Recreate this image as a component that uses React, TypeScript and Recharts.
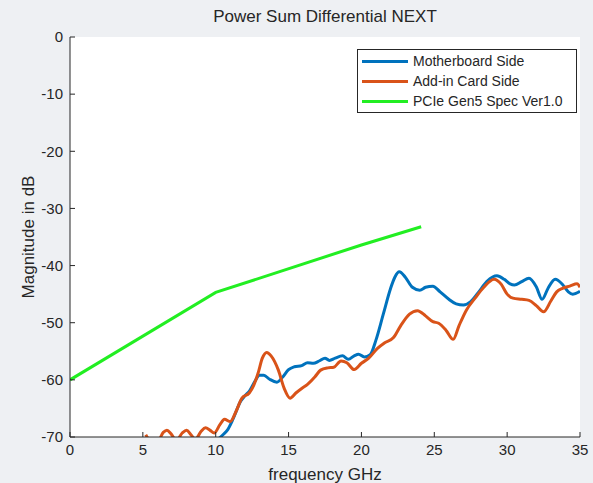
import React from 'react';
import { LineChart, Line, XAxis, YAxis, Legend } from 'recharts';

const freqTicks = [0, 5, 10, 15, 20, 25, 30, 35];
const dbTicks = [0, -10, -20, -30, -40, -50, -60, -70];
const seriesNames = ['Motherboard Side', 'Add-in Card Side', 'PCIe Gen5 Spec Ver1.0'];

const mbFreq = [10.2, 10.5, 10.8, 11.2, 11.7, 12.0, 12.3, 12.7, 13.0, 13.3, 13.7, 14.2, 14.6, 15.0, 15.4, 15.9, 16.3, 16.7, 17.1, 17.5, 17.8, 18.2, 18.7, 19.1, 19.5, 19.8, 20.2, 20.6, 21.0, 21.5, 22.0, 22.3, 22.6, 23.0, 23.5, 24.0, 24.4, 24.9, 25.4, 26.0, 26.5, 27.0, 27.5, 28.0, 28.6, 29.0, 29.3, 29.8, 30.2, 30.5, 31.0, 31.5, 32.0, 32.4, 32.8, 33.3, 33.8, 34.2, 34.5, 35.0];
const mbDb = [-70.3, -69.6, -68.8, -66.8, -63.8, -62.8, -62.0, -60.2, -59.2, -59.2, -59.9, -60.4, -59.5, -58.2, -57.7, -57.5, -57.0, -57.1, -56.7, -56.2, -56.6, -56.2, -55.8, -56.4, -55.8, -55.5, -56.0, -55.6, -53.0, -48.5, -44.0, -42.0, -41.1, -42.0, -43.8, -44.3, -43.8, -43.6, -44.6, -45.9, -46.7, -46.9, -46.3, -44.8, -42.8, -42.0, -41.8, -42.4, -43.2, -43.4, -42.8, -42.2, -43.7, -45.9, -44.0, -42.4, -43.3, -44.6, -45.0, -44.5];

const aicFreq = [5.2, 5.5, 6.0, 6.4, 6.65, 6.95, 7.3, 7.7, 8.0, 8.3, 8.6, 9.0, 9.3, 9.6, 9.9, 10.3, 10.6, 11.0, 11.4, 11.8, 12.3, 12.6, 12.9, 13.2, 13.5, 13.8, 14.3, 14.7, 15.1, 15.5, 15.9, 16.3, 16.8, 17.2, 17.7, 18.1, 18.6, 19.0, 19.5, 20.0, 20.5, 21.1, 21.6, 22.2, 22.7, 23.3, 23.85, 24.4, 24.9, 25.3, 25.8, 26.3, 26.7, 27.2, 27.8, 28.4, 29.1, 29.6, 30.0, 30.4, 31.0, 31.5, 32.0, 32.5, 33.0, 33.4, 33.8, 34.3, 34.8, 35.0];
const aicDb = [-69.6, -70.6, -70.8, -69.2, -68.8, -69.5, -70.6, -69.3, -68.8, -69.6, -70.4, -69.0, -68.4, -68.8, -69.3, -67.8, -66.9, -67.3, -65.5, -63.2, -62.3, -61.0, -58.9, -56.2, -55.2, -55.8, -58.3, -61.5, -63.2, -62.3, -61.5, -60.8, -59.5, -58.3, -57.9, -57.8, -56.7, -57.0, -58.2, -57.1, -56.2, -54.5, -53.5, -52.6, -50.5, -48.5, -47.9, -48.8, -49.8, -50.1, -51.3, -52.9, -50.5, -47.8, -45.7, -43.8, -42.4, -43.3, -45.0, -45.7, -45.9, -46.1, -47.0, -48.1, -46.2, -44.6, -44.0, -43.6, -43.2, -43.8];

const specFreq = [0, 10, 20, 24.1];
const specDb = [-60, -44.7, -36.4, -33.2];

const toRows = (fs: number[], vs: number[]) => fs.map((f, i) => ({ f, v: vs[i] }));
const mbData = toRows(mbFreq, mbDb);
const aicData = toRows(aicFreq, aicDb);
const specData = toRows(specFreq, specDb);

const FONT = '"Liberation Sans", Arial, sans-serif';
const INK = '#262626';

const LegendBox = ({ payload }: any) => {
  const items = seriesNames
    .map((n) => (payload || []).find((p: any) => p.value === n))
    .filter(Boolean);
  return (
    <div
      style={{
        border: `1px solid ${INK}`,
        background: '#fff',
        padding: '1px 14px 1px 4px',
        fontFamily: FONT,
        fontSize: 14,
        color: INK,
        lineHeight: '20px',
        whiteSpace: 'nowrap',
      }}
    >
      {items.map((p: any) => (
        <div key={p.value} style={{ display: 'flex', alignItems: 'center' }}>
          <span style={{ display: 'inline-block', width: 46, height: 3, background: p.color, marginRight: 5 }} />
          {p.value}
        </div>
      ))}
    </div>
  );
};

const App: React.FC = () => (
  <div style={{ position: 'absolute', left: 0, top: 0, width: 593, height: 483, background: '#eef0f3' }}>
    <div
      style={{
        position: 'absolute',
        left: 70,
        width: 510,
        top: 7,
        textAlign: 'center',
        fontFamily: FONT,
        fontSize: 17,
        color: INK,
      }}
    >
      Power Sum Differential NEXT
    </div>
    <LineChart width={593} height={483} margin={{ top: 37, right: 13, left: 0, bottom: 0 }}>
      <rect x={70} y={37} width={510} height={400} fill="#fff" />
      <XAxis
        xAxisId="b"
        dataKey="f"
        type="number"
        domain={[0, 35]}
        ticks={freqTicks}
        allowDataOverflow
        height={46}
        tickSize={-5}
        tickMargin={12}
        stroke={INK}
        tick={{ fill: INK, fontSize: 15, fontFamily: FONT }}
        label={{ value: 'frequency GHz', position: 'insideBottom', offset: 3, fill: INK, fontSize: 17, fontFamily: FONT }}
      />
      <XAxis
        xAxisId="t"
        dataKey="f"
        type="number"
        orientation="top"
        domain={[0, 35]}
        ticks={freqTicks}
        allowDataOverflow
        height={0}
        tickSize={-5}
        stroke={INK}
        tick={false}
      />
      <YAxis
        yAxisId="l"
        type="number"
        domain={[-70, 0]}
        ticks={dbTicks}
        allowDataOverflow
        width={70}
        tickSize={-5}
        tickMargin={12}
        stroke={INK}
        tick={{ fill: INK, fontSize: 15, fontFamily: FONT }}
        label={{ value: 'Magnitude in dB', angle: -90, position: 'insideLeft', offset: 28, fill: INK, fontSize: 17, fontFamily: FONT, style: { textAnchor: 'middle' } }}
      />
      <YAxis
        yAxisId="r"
        type="number"
        orientation="right"
        domain={[-70, 0]}
        ticks={dbTicks}
        allowDataOverflow
        width={0}
        tickSize={-5}
        stroke={INK}
        tick={false}
      />
      <Legend
        layout="vertical"
        verticalAlign="middle"
        align="center"
        content={<LegendBox />}
        wrapperStyle={{ position: 'absolute', left: 357, top: 49, width: 'auto', height: 'auto' }}
      />
      <Line
        xAxisId="b"
        yAxisId="l"
        data={mbData}
        dataKey="v"
        name="Motherboard Side"
        type="monotone"
        stroke="#0072BD"
        strokeWidth={3}
        dot={false}
        isAnimationActive={false}
      />
      <Line
        xAxisId="b"
        yAxisId="l"
        data={aicData}
        dataKey="v"
        name="Add-in Card Side"
        type="monotone"
        stroke="#D95319"
        strokeWidth={3}
        dot={false}
        isAnimationActive={false}
      />
      <Line
        xAxisId="b"
        yAxisId="l"
        data={specData}
        dataKey="v"
        name="PCIe Gen5 Spec Ver1.0"
        type="linear"
        stroke="#22ee22"
        strokeWidth={3}
        dot={false}
        isAnimationActive={false}
      />
    </LineChart>
  </div>
);

export default App;
